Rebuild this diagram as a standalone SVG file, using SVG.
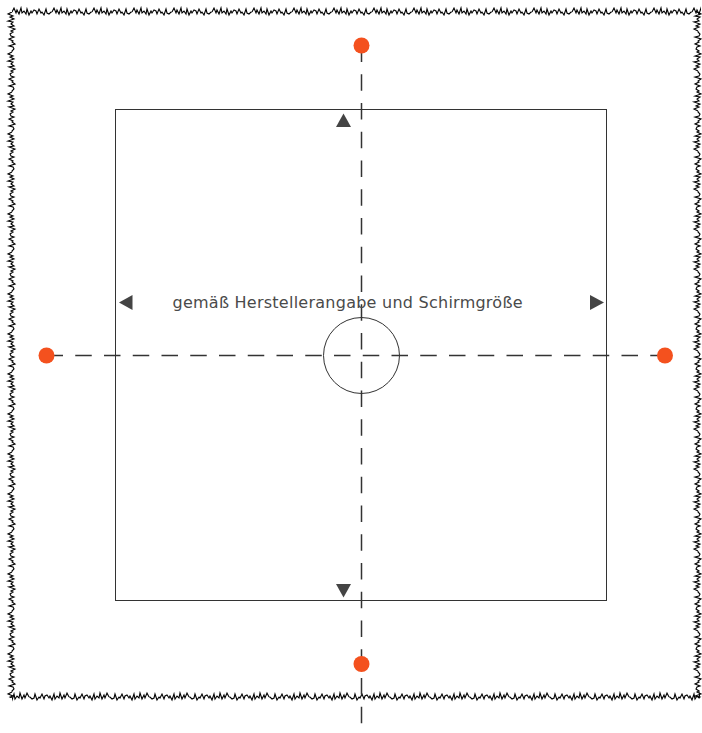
<svg xmlns="http://www.w3.org/2000/svg" width="702" height="733" viewBox="0 0 702 733">
<style>
.zig{fill:none;stroke:#000;stroke-width:1.1;stroke-linejoin:miter}
.frame{fill:none;stroke:#333;stroke-width:1}
.dash{fill:none;stroke:#333;stroke-width:1.5;stroke-dasharray:16.5 12.25}
.dot{fill:#F4511E}
.arr{fill:#444}
.lbl{font-family:"DejaVu Sans","Noto Sans",sans-serif;font-size:16px;fill:#4a4a4a;letter-spacing:0.25px}
</style>
<defs>
<pattern id="zigH" patternUnits="userSpaceOnUse" x="12" y="5" width="40" height="14">
<path class="zig" d="M0,7 l2,-4 2,5 1,-3 2,4 2,-6 1,5 2,-2 2,3 1,-5 2,6 2,-4 1,2 2,-3 2,1 1,3 2,-5 2,4 1,-1 2,3 2,-6 1,4 2,1 2,-2 1,0"/>
</pattern>
<pattern id="zigH2" patternUnits="userSpaceOnUse" x="29" y="690" width="40" height="14">
<path class="zig" d="M0,7 l1,0 2,2 2,-1 1,-4 2,6 2,-3 1,1 2,-4 2,5 1,-3 2,-1 2,3 1,-2 2,4 2,-6 1,5 2,-3 2,2 1,-5 2,6 2,-4 1,3 2,-5 2,4"/>
</pattern>
<pattern id="zigV" patternUnits="userSpaceOnUse" x="5" y="12" width="14" height="40">
<path class="zig" d="M7,0 l-4,2 5,2 -3,1 4,2 -6,2 5,1 -2,2 3,2 -5,1 6,2 -4,2 2,1 -3,2 1,2 3,1 -5,2 4,2 -1,1 3,2 -6,2 4,1 1,2 -2,2 0,1"/>
</pattern>
<pattern id="zigV2" patternUnits="userSpaceOnUse" x="691" y="31" width="14" height="40">
<path class="zig" d="M7,0 l0,1 2,2 -1,2 -4,1 6,2 -3,2 1,1 -4,2 5,2 -3,1 -1,2 3,2 -2,1 4,2 -6,2 5,1 -3,2 2,2 -5,1 6,2 -4,2 3,1 -5,2 4,2"/>
</pattern>
</defs>
<g id="border">
<rect x="12" y="5" width="689" height="14" fill="url(#zigH)"/>
<rect x="12" y="690" width="688" height="14" fill="url(#zigH2)"/>
<rect x="5" y="12" width="14" height="686" fill="url(#zigV)"/>
<rect x="691" y="12" width="14" height="686" fill="url(#zigV2)"/>
</g>
<g id="screen">
<rect class="frame" x="115.5" y="109.5" width="491" height="491"/>
</g>
<g id="connectors">
<line class="dash" x1="46.5" y1="355.5" x2="665" y2="355.5"/>
<line class="dash" x1="361.5" y1="45.5" x2="361.5" y2="733"/>
</g>
<g id="center">
<circle cx="361.5" cy="355.5" r="38" fill="none" stroke="#333" stroke-width="1"/>
</g>
<g id="dot-top"><circle class="dot" cx="361.5" cy="45.5" r="8"/></g>
<g id="dot-bottom"><circle class="dot" cx="361.5" cy="664" r="8"/></g>
<g id="dot-left"><circle class="dot" cx="46.5" cy="355.5" r="8"/></g>
<g id="dot-right"><circle class="dot" cx="665" cy="355.5" r="8"/></g>
<g id="arrows">
<polygon class="arr" points="343.5,113.5 336,127 351,127"/>
<polygon class="arr" points="343.5,597.5 336,584 351,584"/>
<polygon class="arr" points="119,302.5 132.5,295 132.5,310"/>
<polygon class="arr" points="604,302.5 590,295 590,310"/>
</g>
<g id="label">
<text class="lbl" x="172.5" y="308">gemäß Herstellerangabe und Schirmgröße</text>
</g>
</svg>
